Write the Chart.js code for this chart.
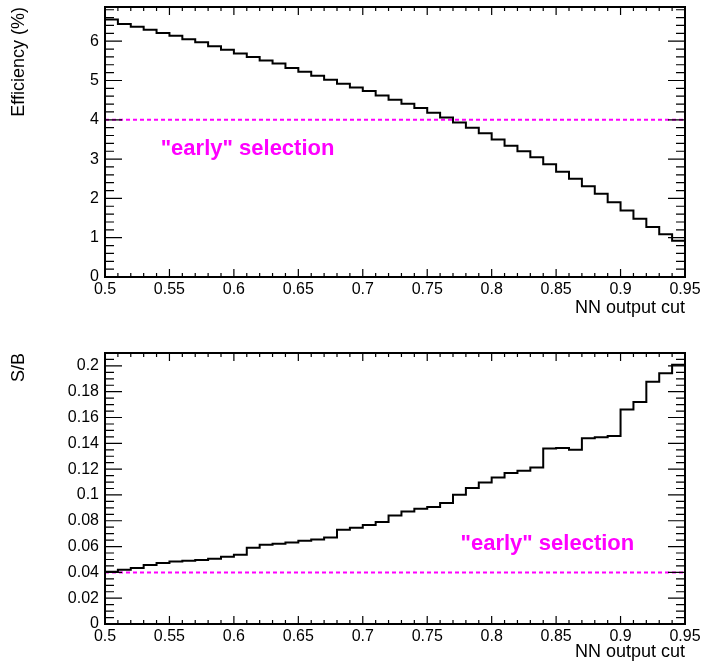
<!DOCTYPE html>
<html>
<head>
    <script src="https://cdn.jsdelivr.net/npm/chart.js"></script>
    <style>
        body { margin: 0; background: white; }
        canvas { position: absolute; left: 0; }
    </style>
</head>
<body>
    <canvas id="effChart" width="701" height="340" style="top: 0px;"></canvas>
    <canvas id="sbChart" width="701" height="327" style="top: 340px;"></canvas>
    <script>
        // bin edges of the NN output cut (45 bins)
        const cutEdges = [0.50, 0.51, 0.52, 0.53, 0.54, 0.55, 0.56, 0.57, 0.58, 0.59,
                          0.60, 0.61, 0.62, 0.63, 0.64, 0.65, 0.66, 0.67, 0.68, 0.69,
                          0.70, 0.71, 0.72, 0.73, 0.74, 0.75, 0.76, 0.77, 0.78, 0.79,
                          0.80, 0.81, 0.82, 0.83, 0.84, 0.85, 0.86, 0.87, 0.88, 0.89,
                          0.90, 0.91, 0.92, 0.93, 0.94, 0.95];

        // efficiency (%) per bin
        const efficiency = [6.55, 6.44, 6.37, 6.29, 6.21, 6.14, 6.05, 5.97, 5.87, 5.78,
                            5.69, 5.60, 5.51, 5.43, 5.32, 5.22, 5.12, 5.02, 4.92, 4.82,
                            4.73, 4.62, 4.51, 4.41, 4.30, 4.18, 4.06, 3.93, 3.80, 3.66,
                            3.50, 3.34, 3.20, 3.05, 2.87, 2.68, 2.50, 2.31, 2.12, 1.90,
                            1.69, 1.48, 1.27, 1.09, 0.92];

        // S/B per bin
        const sOverB = [0.0405, 0.0420, 0.0434, 0.0457, 0.0472, 0.0485, 0.0490, 0.0495, 0.0506, 0.0521,
                        0.0537, 0.0591, 0.0614, 0.0622, 0.0632, 0.0645, 0.0655, 0.0671, 0.0730, 0.0746,
                        0.0767, 0.0790, 0.0841, 0.0872, 0.0893, 0.0906, 0.0937, 0.1001, 0.1053, 0.1097,
                        0.1135, 0.1171, 0.1187, 0.1213, 0.1360, 0.1363, 0.1350, 0.1440, 0.1448, 0.1456,
                        0.1662, 0.1721, 0.1878, 0.1943, 0.2008];

        // "early" selection levels
        const effEarly = 4;
        const sbEarly = 0.04;

        // tick labels
        const cutTicks = [0.5, 0.55, 0.6, 0.65, 0.7, 0.75, 0.8, 0.85, 0.9, 0.95];
        const effTicks = [0, 1, 2, 3, 4, 5, 6];
        const sbTicks = [0, 0.02, 0.04, 0.06, 0.08, 0.1, 0.12, 0.14, 0.16, 0.18, 0.2];

        const earlyLabel = '"early" selection';

        function histPoints(values) {
            const pts = values.map((v, i) => ({ x: cutEdges[i], y: v }));
            pts.push({ x: cutEdges[values.length], y: values[values.length - 1] });
            return pts;
        }

        // ROOT-like frame with inward ticks on all four sides + text label
        const rootFrame = {
            id: 'rootFrame',
            afterDatasetsDraw(chart, args, o) {
                const ctx = chart.ctx;
                const a = chart.chartArea;
                const xs = chart.scales.x, ys = chart.scales.y;
                ctx.save();
                ctx.strokeStyle = '#000';
                ctx.lineWidth = 1.2;
                ctx.beginPath();
                const xMinorN = Math.round((xs.max - xs.min) / o.xMinor);
                for (let i = 0; i <= xMinorN; i++) {
                    const v = xs.min + i * o.xMinor;
                    const major = Math.abs(v / o.xMajor - Math.round(v / o.xMajor)) < 1e-6;
                    const len = major ? 8 : 4;
                    const px = xs.getPixelForValue(v);
                    ctx.moveTo(px, a.bottom); ctx.lineTo(px, a.bottom - len);
                    ctx.moveTo(px, a.top); ctx.lineTo(px, a.top + len);
                }
                const yMinorN = Math.floor((ys.max - ys.min) / o.yMinor + 1e-6);
                for (let i = 0; i <= yMinorN; i++) {
                    const v = ys.min + i * o.yMinor;
                    const major = Math.abs(v / o.yMajor - Math.round(v / o.yMajor)) < 1e-6;
                    const len = major ? 17 : 9;
                    const py = ys.getPixelForValue(v);
                    ctx.moveTo(a.left, py); ctx.lineTo(a.left + len, py);
                    ctx.moveTo(a.right, py); ctx.lineTo(a.right - len, py);
                }
                ctx.stroke();
                ctx.lineWidth = 2;
                ctx.strokeRect(a.left, a.top, a.right - a.left, a.bottom - a.top);

                ctx.fillStyle = '#ff00ff';
                ctx.font = 'bold 22px "Liberation Sans", Arial, sans-serif';
                ctx.textAlign = 'center';
                ctx.textBaseline = 'middle';
                ctx.fillText(earlyLabel, xs.getPixelForValue(o.labelX), ys.getPixelForValue(o.labelY));
                ctx.restore();
            }
        };

        function makePanel(id, values, early, yMax, yTicks, yTitle, p) {
            const tickFont = { family: '"Liberation Sans", Arial, sans-serif', size: 16 };
            const titleFont = { family: '"Liberation Sans", Arial, sans-serif', size: 18 };
            return new Chart(document.getElementById(id), {
                type: 'line',
                data: {
                    datasets: [
                        {
                            data: histPoints(values),
                            stepped: 'before',
                            borderColor: '#000',
                            borderWidth: 2,
                            pointRadius: 0,
                            fill: false
                        },
                        {
                            data: [{ x: cutEdges[0], y: early }, { x: cutEdges[cutEdges.length - 1], y: early }],
                            borderColor: '#ff00ff',
                            borderWidth: 2,
                            borderDash: [4, 3],
                            pointRadius: 0,
                            fill: false
                        }
                    ]
                },
                options: {
                    responsive: false,
                    animation: false,
                    layout: { padding: { top: p.top, right: 16, bottom: 0, left: 0 } },
                    plugins: {
                        legend: { display: false },
                        tooltip: { enabled: false },
                        rootFrame: p.frame
                    },
                    scales: {
                        x: {
                            type: 'linear',
                            min: 0.5,
                            max: 0.95,
                            grid: { display: false, drawTicks: false },
                            border: { display: false },
                            afterBuildTicks: s => { s.ticks = cutTicks.map(v => ({ value: v })); },
                            afterFit: s => {
                                s.height = p.xHeight;
                                s.paddingLeft = 0; s.paddingRight = 0;
                            },
                            ticks: {
                                color: '#000',
                                font: tickFont,
                                padding: 3,
                                maxRotation: 0,
                                autoSkip: false,
                                callback: v => String(v)
                            },
                            title: {
                                display: true,
                                text: 'NN output cut',
                                align: 'end',
                                color: '#000',
                                font: titleFont,
                                padding: { top: 0, bottom: p.xTitlePad }
                            }
                        },
                        y: {
                            type: 'linear',
                            min: 0,
                            max: yMax,
                            grid: { display: false, drawTicks: false },
                            border: { display: false },
                            afterBuildTicks: s => { s.ticks = yTicks.map(v => ({ value: v })); },
                            afterFit: s => {
                                s.width = 105;
                                s.paddingTop = 0; s.paddingBottom = 0;
                            },
                            ticks: {
                                color: '#000',
                                font: tickFont,
                                padding: 6,
                                autoSkip: false,
                                callback: v => String(v)
                            },
                            title: {
                                display: true,
                                text: yTitle,
                                align: 'end',
                                color: '#000',
                                font: titleFont,
                                padding: { top: 8, bottom: 0 }
                            }
                        }
                    }
                },
                plugins: [rootFrame]
            });
        }

        makePanel('effChart', efficiency, effEarly, 6.87, effTicks, 'Efficiency (%)', {
            top: 7, xHeight: 63, xTitlePad: 21,
            frame: { xMajor: 0.05, xMinor: 0.01, yMajor: 1, yMinor: 0.2, labelX: 0.6106, labelY: 3.26 }
        });

        makePanel('sbChart', sOverB, sbEarly, 0.21, sbTicks, 'S/B', {
            top: 13, xHeight: 43, xTitlePad: 4,
            frame: { xMajor: 0.05, xMinor: 0.01, yMajor: 0.02, yMinor: 0.005, labelX: 0.8432, labelY: 0.0622 }
        });
    </script>
</body>
</html>
